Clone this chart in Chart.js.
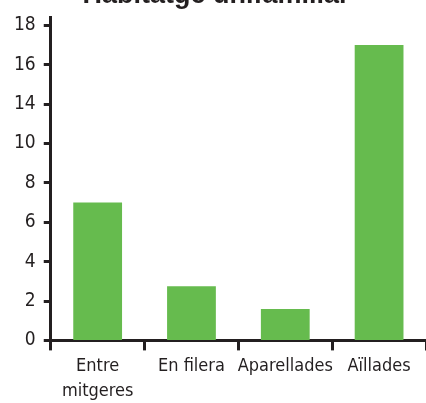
<!DOCTYPE html>
<html>
<head>
<meta charset="utf-8">
<script src="https://cdn.jsdelivr.net/npm/chart.js@4"></script>
<style>
  html, body { margin: 0; padding: 0; background: #fff; overflow: hidden; }
  #wrap { position: absolute; left: 0; top: -21px; width: 426px; height: 429px; }
</style>
</head>
<body>
<div id="wrap"><canvas id="c"></canvas></div>
<script>
const titleText = 'Habitatge unifamiliar';
const categories = [['Entre', 'mitgeres'], 'En filera', 'Aparellades', 'Aïllades'];
// values in axis units (axis positions 0..16, step 2)
const values = [7.0, 2.75, 1.6, 15.0];
// printed tick labels as they appear on the picture (one per step of 2)
const yTickLabels = ['0', '2', '4', '6', '8', '10', '14', '16', '18'];

const ink = '#231f20';
const green = '#66bb4e';
const narrow = "'DejaVu Sans Condensed', 'DejaVu Sans', sans-serif";

new Chart(document.getElementById('c'), {
  type: 'bar',
  data: {
    labels: categories,
    datasets: [{
      data: values,
      backgroundColor: green,
      borderWidth: 0,
      categoryPercentage: 1,
      barPercentage: 0.52
    }]
  },
  options: {
    responsive: true,
    maintainAspectRatio: false,
    animation: false,
    events: [],
    layout: { padding: { left: 6, right: 0, top: 0, bottom: 1 } },
    plugins: {
      legend: { display: false },
      tooltip: { enabled: false },
      title: {
        display: true,
        text: titleText,
        color: ink,
        font: { family: "'Liberation Sans', Arial, sans-serif", size: 27, weight: 'bold', lineHeight: 1.2 },
        padding: { top: 0, bottom: 6 }
      }
    },
    scales: {
      x: {
        grid: {
          display: true,
          drawOnChartArea: false,
          drawTicks: true,
          tickLength: 10,
          tickWidth: 3,
          tickColor: ink,
          offset: true
        },
        border: { display: true, color: ink, width: 3 },
        ticks: {
          color: ink,
          padding: 4,
          maxRotation: 0,
          autoSkip: false,
          font: { family: narrow, size: 18, lineHeight: 1.35 }
        }
      },
      y: {
        min: 0,
        max: 16.4,
        afterBuildTicks: (axis) => {
          axis.ticks = yTickLabels.map((_, i) => ({ value: i * 2 }));
        },
        grid: {
          display: true,
          drawOnChartArea: false,
          drawTicks: true,
          tickLength: 7,
          tickWidth: 3,
          tickColor: ink
        },
        border: { display: true, color: ink, width: 3 },
        ticks: {
          stepSize: 2,
          color: ink,
          padding: 8,
          font: { family: narrow, size: 19 },
          callback: (v) => yTickLabels[Math.round(v / 2)]
        }
      }
    }
  }
});
</script>
</body>
</html>
